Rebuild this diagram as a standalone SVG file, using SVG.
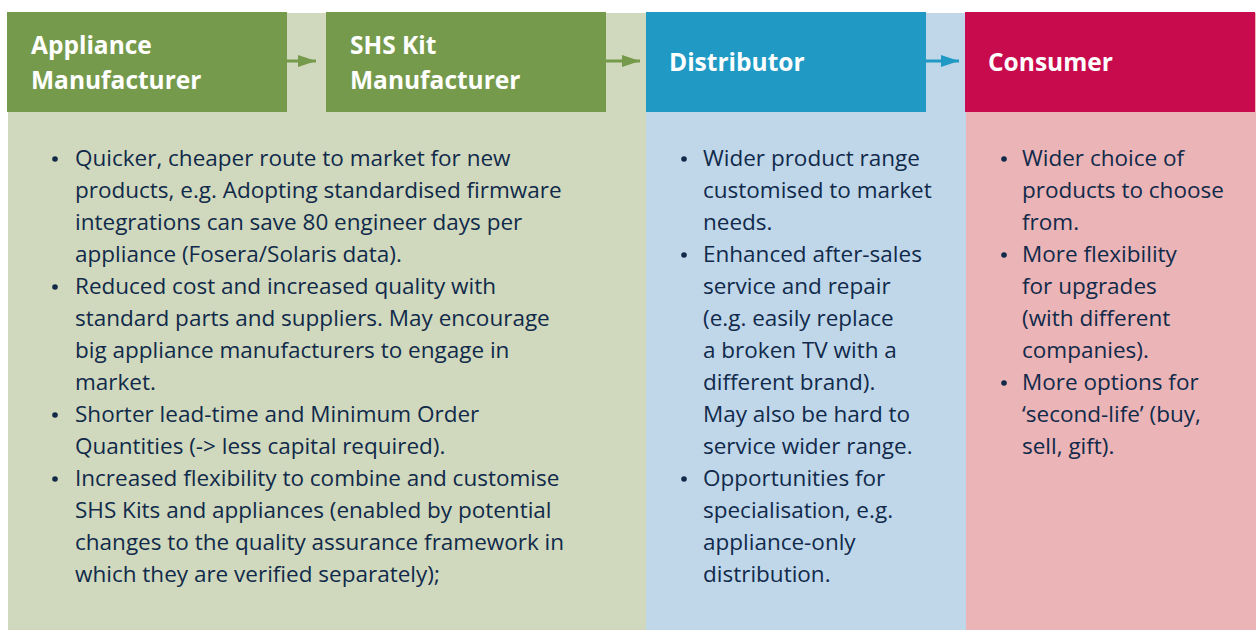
<svg xmlns="http://www.w3.org/2000/svg" width="1258" height="630" viewBox="0 0 1258 630">
  <defs>
    <marker id="headGreen" viewBox="0 0 18 12" refX="18" refY="6" markerWidth="18" markerHeight="12" markerUnits="userSpaceOnUse" orient="auto">
      <path d="M0,0 L18,6 L0,12 Z" fill="#769A4B"/>
    </marker>
    <marker id="headBlue" viewBox="0 0 18 12" refX="18" refY="6" markerWidth="18" markerHeight="12" markerUnits="userSpaceOnUse" orient="auto">
      <path d="M0,0 L18,6 L0,12 Z" fill="#209AC4"/>
    </marker>
  </defs>
  <style>
    .head { font-family: "Open Sans", "Lato", sans-serif; font-weight: 700; font-size: 24.5px; fill: #ffffff; }
    .body { font-family: "Open Sans", "Lato", sans-serif; font-size: 22.5px; fill: #112A4A; }
    .dot { fill: #112A4A; }
    .link { stroke-width: 3; fill: none; }
  </style>

  <rect x="0" y="0" width="1258" height="630" fill="#ffffff"/>

  <!-- column bands -->
  <rect x="8" y="13" width="638" height="617" fill="#D0D9BE"/>
  <rect x="646" y="13" width="320" height="617" fill="#C0D7EA"/>
  <rect x="966" y="13" width="290" height="617" fill="#EBB4B6"/>

  <!-- Appliance Manufacturer -->
  <g id="appliance-manufacturer">
    <rect x="7" y="12" width="280" height="100" fill="#769A4B"/>
    <text class="head" x="31" y="54">Appliance</text>
    <text class="head" x="31" y="89">Manufacturer</text>
  </g>

  <!-- SHS Kit Manufacturer (shares the green band's benefits list) -->
  <g id="shs-kit-manufacturer">
    <rect x="326" y="12" width="280" height="100" fill="#769A4B"/>
    <text class="head" x="350" y="54">SHS Kit</text>
    <text class="head" x="350" y="89">Manufacturer</text>
  </g>

  <g id="manufacturer-benefits">
    <circle class="dot" cx="55" cy="159" r="2.8"/>
    <circle class="dot" cx="55" cy="287" r="2.8"/>
    <circle class="dot" cx="55" cy="415" r="2.8"/>
    <circle class="dot" cx="55" cy="479" r="2.8"/>
    <text class="body" x="75" y="166">Quicker, cheaper route to market for new</text>
    <text class="body" x="75" y="198">products, e.g. Adopting standardised firmware</text>
    <text class="body" x="75" y="230">integrations can save 80 engineer days per</text>
    <text class="body" x="75" y="262">appliance (Fosera/Solaris data).</text>
    <text class="body" x="75" y="294">Reduced cost and increased quality with</text>
    <text class="body" x="75" y="326">standard parts and suppliers. May encourage</text>
    <text class="body" x="75" y="358">big appliance manufacturers to engage in</text>
    <text class="body" x="75" y="390">market.</text>
    <text class="body" x="75" y="422">Shorter lead-time and Minimum Order</text>
    <text class="body" x="75" y="454">Quantities (-&gt; less capital required).</text>
    <text class="body" x="75" y="486">Increased flexibility to combine and customise</text>
    <text class="body" x="75" y="518">SHS Kits and appliances (enabled by potential</text>
    <text class="body" x="75" y="550">changes to the quality assurance framework in</text>
    <text class="body" x="75" y="582">which they are verified separately);</text>
  </g>

  <!-- Distributor -->
  <g id="distributor">
    <rect x="646" y="12" width="280" height="100" fill="#209AC4"/>
    <text class="head" x="669" y="71">Distributor</text>
    <circle class="dot" cx="684" cy="159" r="2.8"/>
    <circle class="dot" cx="684" cy="255" r="2.8"/>
    <circle class="dot" cx="684" cy="479" r="2.8"/>
    <text class="body" x="703" y="166">Wider product range</text>
    <text class="body" x="703" y="198">customised to market</text>
    <text class="body" x="703" y="230">needs.</text>
    <text class="body" x="703" y="262">Enhanced after-sales</text>
    <text class="body" x="703" y="294">service and repair</text>
    <text class="body" x="703" y="326">(e.g. easily replace</text>
    <text class="body" x="703" y="358">a broken TV with a</text>
    <text class="body" x="703" y="390">different brand).</text>
    <text class="body" x="703" y="422">May also be hard to</text>
    <text class="body" x="703" y="454">service wider range.</text>
    <text class="body" x="703" y="486">Opportunities for</text>
    <text class="body" x="703" y="518">specialisation, e.g.</text>
    <text class="body" x="703" y="550">appliance-only</text>
    <text class="body" x="703" y="582">distribution.</text>
  </g>

  <!-- Consumer -->
  <g id="consumer">
    <rect x="965" y="12" width="290" height="100" fill="#C70B4C"/>
    <text class="head" x="988" y="71">Consumer</text>
    <circle class="dot" cx="1004" cy="159" r="2.8"/>
    <circle class="dot" cx="1004" cy="255" r="2.8"/>
    <circle class="dot" cx="1004" cy="383" r="2.8"/>
    <text class="body" x="1022" y="166">Wider choice of</text>
    <text class="body" x="1022" y="198">products to choose</text>
    <text class="body" x="1022" y="230">from.</text>
    <text class="body" x="1022" y="262">More flexibility</text>
    <text class="body" x="1022" y="294">for upgrades</text>
    <text class="body" x="1022" y="326">(with different</text>
    <text class="body" x="1022" y="358">companies).</text>
    <text class="body" x="1022" y="390">More options for</text>
    <text class="body" x="1022" y="422">‘second-life’ (buy,</text>
    <text class="body" x="1022" y="454">sell, gift).</text>
  </g>

  <!-- flow arrows between stages -->
  <g id="connectors">
    <line class="link" x1="287" y1="61" x2="316" y2="61" stroke="#769A4B" marker-end="url(#headGreen)"/>
    <line class="link" x1="606" y1="61" x2="640" y2="61" stroke="#769A4B" marker-end="url(#headGreen)"/>
    <line class="link" x1="926" y1="61" x2="959" y2="61" stroke="#209AC4" marker-end="url(#headBlue)"/>
  </g>
</svg>
